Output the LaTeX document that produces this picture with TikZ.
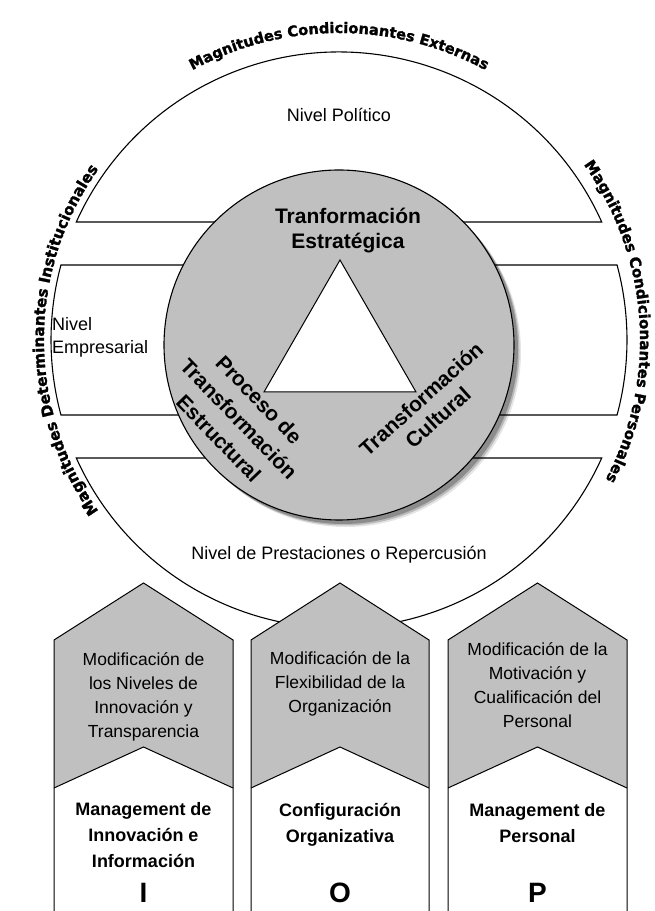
\documentclass[tikz,border=0pt]{standalone}
\usepackage{fontspec}
\setmainfont{Liberation Sans}
\newfontfamily\arcfont{DejaVu Sans}[BoldFeatures={FakeBold=1.6}]
\usetikzlibrary{decorations.text}
\definecolor{fillgray}{HTML}{C0C0C0}
\begin{document}
\begin{tikzpicture}[x=1pt,y=1pt,
  band/.style={fill=white, draw=black, line width=1.1pt},
  plain/.style={inner sep=0pt, font=\fontsize{18}{23}\selectfont},
  graytxt/.style={inner sep=0pt, align=center, font=\fontsize{17.5}{24}\selectfont},
  boldtxt/.style={inner sep=0pt, align=center, font=\bfseries\fontsize{18}{26}\selectfont},
  bigletter/.style={inner sep=0pt, font=\bfseries\fontsize{28}{28}\selectfont},
  coretxt/.style={inner sep=0pt, align=center, font=\bfseries\fontsize{21}{25}\selectfont},
  pillar/.style={draw=black, line width=1pt},
  arctext/.style={decorate, decoration={text along path, text align=center}}
]
\useasboundingbox (0,0) rectangle (655,911);
\fill[white] (0,0) rectangle (655,911);

% outer ring segments
\draw[band] ([shift={(339,571)}]24.19:288) arc[start angle=24.19, end angle=155.81, radius=288] -- cycle;
\draw[band] ([shift={(339,571)}]-15.09:288) arc[start angle=-15.09, end angle=15.09, radius=288]
  -- ([shift={(339,571)}]164.91:288) arc[start angle=164.91, end angle=195.09, radius=288] -- cycle;
\draw[band] ([shift={(339,571)}]204.19:288) arc[start angle=204.19, end angle=335.81, radius=288] -- cycle;

% arc texts
\path[arctext, decoration={text={|\arcfont\bfseries\fontsize{14.6}{15}\selectfont|Magnitudes Condicionantes Externas}}]
  ([shift={(339,571)}]140:307) arc[start angle=140, end angle=40, radius=307];
\path[arctext, decoration={text={|\arcfont\bfseries\fontsize{15.2}{16}\selectfont|Magnitudes Determinantes Institucionales}}]
  ([shift={(339,571)}]240:295) arc[start angle=240, end angle=120, radius=295];
\path[arctext, decoration={text={|\arcfont\bfseries\fontsize{15}{16}\selectfont|Magnitudes Condicionantes Personales}}]
  ([shift={(339,571)}]62:301) arc[start angle=62, end angle=-54, radius=301];

% inner circle with shadow
\foreach \o/\op in {7/0.10, 5.5/0.18, 4/0.25}
  \fill[black, opacity=\op] (339+\o,566-\o) circle[radius=175];
\draw[fill=fillgray, line width=1.1pt] (339,566) circle[radius=175];
\draw[fill=white, line width=1pt] (340,651) -- (264,519) -- (416,519) -- cycle;

% level labels
\node[plain] (politico) at (339,796) {Nivel Político};
\node[plain, anchor=west, align=left] (empresarial) at (52,574) {Nivel\\Empresarial};
\node[plain] (prestaciones) at (339,356) {Nivel de Prestaciones o Repercusión};

% core labels
\node[coretxt] (estrategica) at (348,680) {Tranformación\\Estratégica};
\node[coretxt, rotate=-46, font=\bfseries\fontsize{21}{28}\selectfont] (estructural) at (239,492) {Proceso de\\Transformación\\Estructural};
\node[coretxt, rotate=42] (cultural) at (429.5,503) {Transformación\\Cultural};

% pillars
\foreach \l/\c/\r in {54/143.5/233, 251/340/429, 448/537.5/627} {
  \fill[fillgray] (\l,271) -- (\c,328) -- (\r,271) -- (\r,123) -- (\c,164) -- (\l,123) -- cycle;
  \draw[pillar] (\l,0) -- (\l,271) -- (\c,328) -- (\r,271) -- (\r,0);
  \draw[pillar] (\l,123) -- (\c,164) -- (\r,123);
}

\node[graytxt] (g1) at (143.5,214.5) {Modificación de\\los Niveles de\\Innovación y\\Transparencia};
\node[graytxt] (g2) at (340,227) {Modificación de la\\Flexibilidad de la\\Organización};
\node[graytxt] (g3) at (537.5,226) {Modificación de la\\Motivación y\\Cualificación del\\Personal};

\node[boldtxt] (b1) at (143.5,76) {Management de\\Innovación e\\Información};
\node[boldtxt] (b2) at (340,86.5) {Configuración\\Organizativa};
\node[boldtxt] (b3) at (537.5,87.5) {Management de\\Personal};

\node[bigletter] (li) at (143.5,18) {I};
\node[bigletter] (lo) at (340,18) {O};
\node[bigletter] (lp) at (537.5,18) {P};
\end{tikzpicture}
\end{document}
